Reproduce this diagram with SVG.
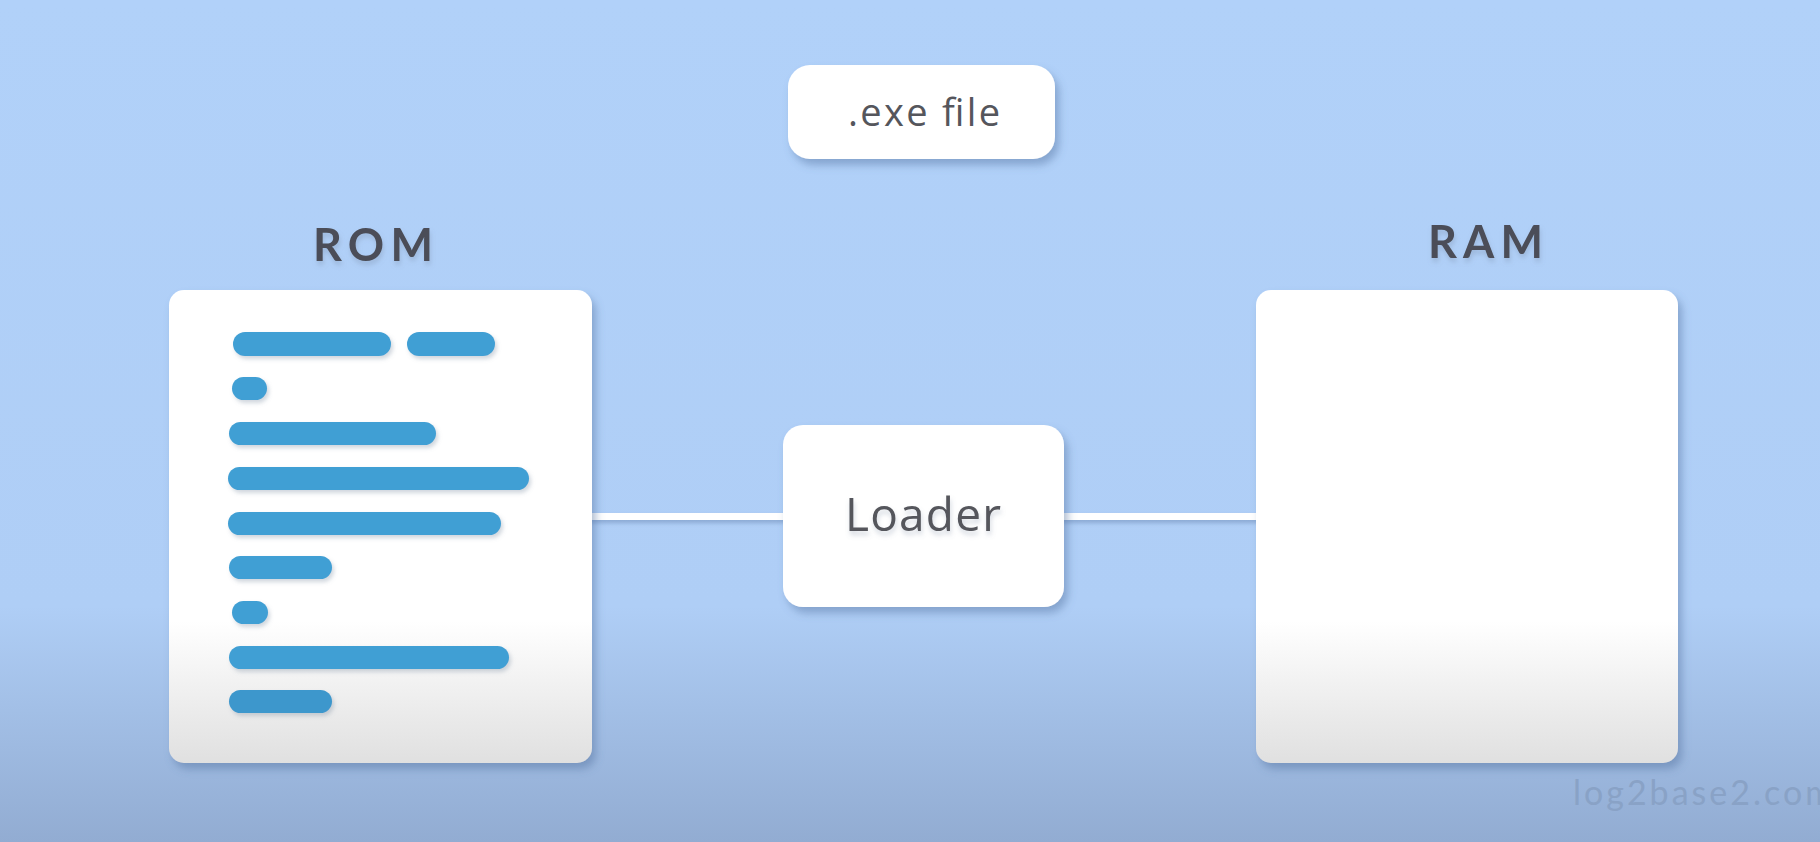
<svg xmlns="http://www.w3.org/2000/svg" width="1820" height="842" viewBox="0 0 1820 842">
<defs>
<linearGradient id="bg" x1="0" y1="0" x2="0" y2="1">
<stop offset="0" stop-color="#b1d1f9"/>
<stop offset="0.72" stop-color="#afcef6"/>
<stop offset="1" stop-color="#92acd2"/>
</linearGradient>
<linearGradient id="card" gradientUnits="userSpaceOnUse" x1="0" y1="290" x2="0" y2="763">
<stop offset="0" stop-color="#ffffff"/>
<stop offset="0.7" stop-color="#ffffff"/>
<stop offset="1" stop-color="#e0e0e0"/>
</linearGradient>
<filter id="sh" x="-10%" y="-10%" width="125%" height="130%">
<feDropShadow dx="4" dy="6" stdDeviation="4" flood-color="#4f6f9c" flood-opacity="0.45"/>
</filter>
<filter id="bsh" x="-10%" y="-30%" width="125%" height="180%">
<feDropShadow dx="2" dy="3" stdDeviation="2" flood-color="#7a8aa0" flood-opacity="0.35"/>
</filter>
<filter id="lsh" filterUnits="userSpaceOnUse" x="0" y="480" width="1820" height="80">
<feDropShadow dx="1" dy="3" stdDeviation="2" flood-color="#5f7da8" flood-opacity="0.45"/>
</filter>
<filter id="tsh" x="-10%" y="-20%" width="130%" height="160%">
<feDropShadow dx="1" dy="4" stdDeviation="2.5" flood-color="#6d7f99" flood-opacity="0.3"/>
</filter>
</defs>
<style>
.box{fill:#ffffff;filter:url(#sh)}
.bar{fill:#419fd4;filter:url(#bsh)}
.lbl{font-family:"Open Sans","Liberation Sans",sans-serif;fill:#55565c}
.title{font-family:Lato,"Liberation Sans",sans-serif;font-weight:700;fill:#4b4e58;font-size:45px}
.conn{fill:#ffffff}
</style>
<rect x="0" y="0" width="1820" height="842" fill="url(#bg)"/>
<text x="1573" y="805" font-family="Lato,'Liberation Sans',sans-serif" font-size="34" fill="#89a2c6" letter-spacing="3">log2base2.com</text>
<g id="connectors" filter="url(#lsh)">
<rect class="conn" x="588" y="513" width="200" height="7"/>
<rect class="conn" x="1060" y="513" width="200" height="7"/>
</g>
<g id="exe-file">
<rect class="box" x="788" y="65" width="267" height="94" rx="22"/>
<text class="lbl" x="848" y="126" font-size="38" textLength="152" lengthAdjust="spacing">.exe file</text>
</g>
<g id="rom">
<text class="title" x="313" y="261" textLength="120" lengthAdjust="spacing" filter="url(#tsh)">ROM</text>
<rect class="box" x="169" y="290" width="423" height="473" rx="15" style="fill:url(#card)"/>
<rect class="bar" x="233" y="332" width="158" height="24" rx="12"/>
<rect class="bar" x="407" y="332" width="88" height="24" rx="12"/>
<rect class="bar" x="232" y="377" width="35" height="23" rx="11.5"/>
<rect class="bar" x="229" y="422" width="207" height="23" rx="11.5"/>
<rect class="bar" x="228" y="467" width="301" height="23" rx="11.5"/>
<rect class="bar" x="228" y="512" width="273" height="23" rx="11.5"/>
<rect class="bar" x="229" y="556" width="103" height="23" rx="11.5"/>
<rect class="bar" x="232" y="601" width="36" height="23" rx="11.5"/>
<rect class="bar" x="229" y="646" width="280" height="23" rx="11.5"/>
<rect class="bar" x="229" y="690" width="103" height="23" rx="11.5" style="fill:#3d97cc"/>
</g>
<g id="loader">
<rect class="box" x="783" y="425" width="281" height="182" rx="20"/>
<text class="lbl" x="845" y="531" font-size="46" textLength="156" lengthAdjust="spacing" filter="url(#tsh)">Loader</text>
</g>
<g id="ram">
<text class="title" x="1428" y="258" textLength="115" lengthAdjust="spacing" filter="url(#tsh)">RAM</text>
<rect class="box" x="1256" y="290" width="422" height="473" rx="15" style="fill:url(#card)"/>
</g>
</svg>
